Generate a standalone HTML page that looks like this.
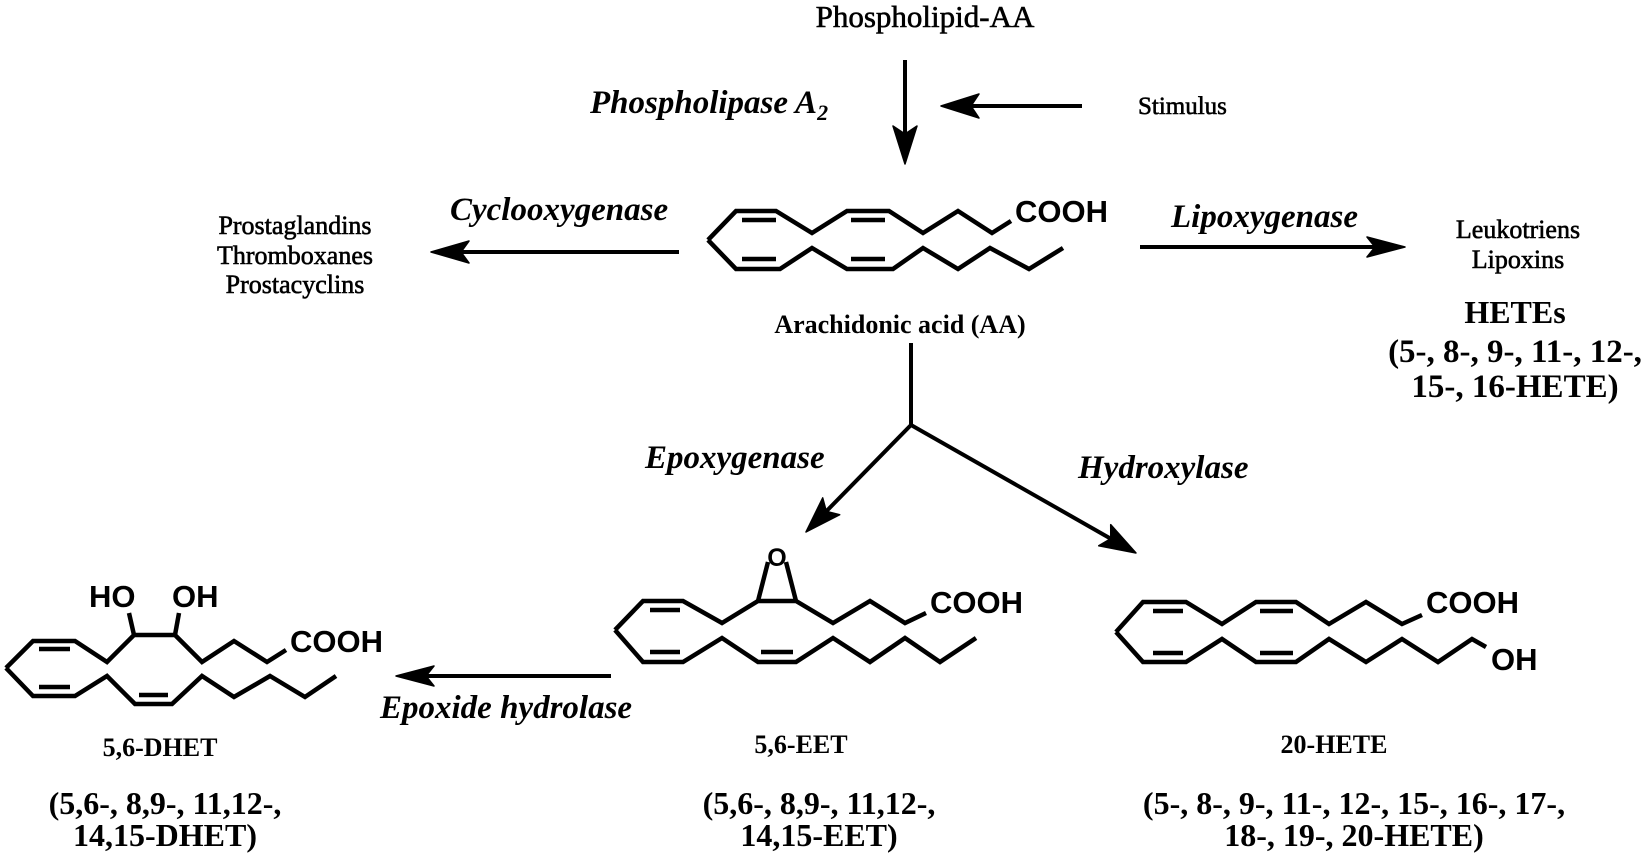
<!DOCTYPE html>
<html>
<head>
<meta charset="utf-8">
<style>
  html,body{margin:0;padding:0;background:#fff;}
  svg{display:block;}
  .serif{font-family:"Liberation Serif","Times New Roman",serif;stroke:#000;stroke-width:0.6px;}
  .sans{font-family:"Liberation Sans",Arial,sans-serif;font-weight:bold;}
  .bi{font-family:"Liberation Serif","Times New Roman",serif;font-weight:bold;font-style:italic;}
  .b{font-family:"Liberation Serif","Times New Roman",serif;font-weight:bold;}
</style>
</head>
<body>
<svg width="1644" height="858" viewBox="0 0 1644 858" xmlns="http://www.w3.org/2000/svg">
  <rect width="1644" height="858" fill="#fff"/>

  <!-- ===== Top ===== -->
  <text class="serif" x="925" y="27" font-size="31" text-anchor="middle">Phospholipid-AA</text>
  <text class="bi" x="590" y="113" font-size="33">Phospholipase A<tspan font-size="22" dy="7">2</tspan></text>
  <text class="serif" x="1138" y="114" font-size="25">Stimulus</text>

  <g stroke="#000" stroke-width="4" fill="none" stroke-linecap="butt">
    <line x1="905" y1="60" x2="905" y2="134"/>
    <line x1="1082" y1="106" x2="971" y2="106"/>
    <line x1="679" y1="252" x2="461" y2="252"/>
    <line x1="1140" y1="247" x2="1375" y2="247"/>
    <line x1="611" y1="676" x2="426" y2="676"/>
    <line x1="911" y1="343" x2="911" y2="425"/>
    <line x1="911" y1="425" x2="826.3" y2="511.3"/>
    <line x1="911" y1="425" x2="1110.8" y2="538.7"/>
  </g>
  <g fill="#000" stroke="#000" stroke-width="1.5" stroke-linejoin="round">
    <polygon points="905,164 893,126 905,134 917,126"/>
    <polygon points="941,106 979,94 971,106 979,118"/>
    <polygon points="431,252 469,241 461,252 469,263"/>
    <polygon points="1405,247 1367,237 1375,247 1367,257"/>
    <polygon points="396,676 434,666 426,676 434,686"/>
    <polygon points="806,532 839.7,514.7 826.3,511.3 822.7,497.9"/>
    <polygon points="1136,553 1098.7,545.8 1110.8,538.7 1110.7,524.6"/>
  </g>

  <!-- ===== Middle row ===== -->
  <text class="bi" x="450" y="220" font-size="33">Cyclooxygenase</text>
  <g class="serif" font-size="26" text-anchor="middle">
    <text x="295" y="234">Prostaglandins</text>
    <text x="295" y="264">Thromboxanes</text>
    <text x="295" y="293">Prostacyclins</text>
  </g>

  <text class="bi" x="1171" y="227" font-size="33">Lipoxygenase</text>
  <g class="serif" font-size="26" text-anchor="middle">
    <text x="1518" y="238">Leukotriens</text>
    <text x="1518" y="268">Lipoxins</text>
  </g>
  <text class="b" x="1515" y="323" font-size="32" text-anchor="middle">HETEs</text>
  <g class="b" font-size="33" text-anchor="middle">
    <text x="1515" y="362">(5-, 8-, 9-, 11-, 12-,</text>
    <text x="1515" y="397">15-, 16-HETE)</text>
  </g>

  <!-- Arachidonic acid -->
  <g stroke="#000" stroke-width="4.5" fill="none" stroke-linejoin="miter" stroke-linecap="butt">
    <polyline points="708,240 736,211 776,211 812,233 847,211 889,211 923,233 958,211 992,233 1011,221"/>
    <polyline points="708,240 736,269 780,269 812,248 847,269 893,269 923,248 958,269 990,248 1029,269 1063,248"/>
    <line x1="742" y1="220" x2="776" y2="220"/>
    <line x1="851" y1="220" x2="885" y2="220"/>
    <line x1="742" y1="259" x2="776" y2="259"/>
    <line x1="851" y1="259" x2="885" y2="259"/>
  </g>
  <text class="sans" x="1015" y="222" font-size="31">COOH</text>
  <text class="b" x="900" y="333" font-size="26" text-anchor="middle">Arachidonic acid (AA)</text>

  <!-- Branch labels -->
  <text class="bi" x="645" y="468" font-size="33">Epoxygenase</text>
  <text class="bi" x="1078" y="478" font-size="33">Hydroxylase</text>

  <!-- ===== DHET ===== -->
  <g stroke="#000" stroke-width="4.5" fill="none" stroke-linejoin="miter">
    <polyline points="6,668 33,641 75,641 107,662 134,635 175,635 202,662 234,641 267,662 286,650"/>
    <polyline points="6,668 33,696 75,696 107,676 135,704 172,704 202,676 234,697 270,676 305,697 336,676"/>
    <line x1="134" y1="635" x2="129" y2="613"/>
    <line x1="175" y1="635" x2="179" y2="613"/>
    <line x1="39" y1="649" x2="70" y2="649"/>
    <line x1="39" y1="687" x2="70" y2="687"/>
    <line x1="139" y1="695" x2="168" y2="695"/>
  </g>
  <text class="sans" x="89" y="607" font-size="31">HO</text>
  <text class="sans" x="172" y="607" font-size="31">OH</text>
  <text class="sans" x="290" y="652" font-size="31">COOH</text>
  <text class="bi" x="380" y="718" font-size="33">Epoxide hydrolase</text>
  <text class="b" x="160" y="756" font-size="26" text-anchor="middle">5,6-DHET</text>
  <g class="b" font-size="32" text-anchor="middle">
    <text x="165" y="814">(5,6-, 8,9-, 11,12-,</text>
    <text x="165" y="846">14,15-DHET)</text>
  </g>

  <!-- ===== EET ===== -->
  <g stroke="#000" stroke-width="4.5" fill="none" stroke-linejoin="miter">
    <polyline points="615,630 643,601 683,601 722,623 758,601 796,601 833,623 870,601 905,623 926,613"/>
    <polyline points="615,630 643,662 683,662 722,638 758,662 796,662 833,638 870,662 905,638 940,662 976,638"/>
    <line x1="758" y1="601" x2="768" y2="562"/>
    <line x1="796" y1="601" x2="786" y2="562"/>
    <line x1="650" y1="610" x2="680" y2="610"/>
    <line x1="650" y1="652" x2="680" y2="652"/>
    <line x1="761" y1="652" x2="793" y2="652"/>
  </g>
  <text class="sans" x="777" y="566" font-size="25" text-anchor="middle">O</text>
  <text class="sans" x="930" y="613" font-size="31">COOH</text>
  <text class="b" x="801" y="753" font-size="26" text-anchor="middle">5,6-EET</text>
  <g class="b" font-size="32" text-anchor="middle">
    <text x="819" y="814">(5,6-, 8,9-, 11,12-,</text>
    <text x="819" y="846">14,15-EET)</text>
  </g>

  <!-- ===== 20-HETE ===== -->
  <g stroke="#000" stroke-width="4.5" fill="none" stroke-linejoin="miter">
    <polyline points="1116,632 1143,602 1186,602 1222,624 1256,602 1296,602 1329,624 1366,602 1402,624 1422,615"/>
    <polyline points="1116,632 1143,662 1186,662 1222,639 1256,662 1296,662 1329,639 1366,662 1402,639 1438,662 1472,639 1486,647"/>
    <line x1="1153" y1="611" x2="1183" y2="611"/>
    <line x1="1260" y1="611" x2="1293" y2="611"/>
    <line x1="1153" y1="653" x2="1183" y2="653"/>
    <line x1="1260" y1="653" x2="1293" y2="653"/>
  </g>
  <text class="sans" x="1426" y="613" font-size="31">COOH</text>
  <text class="sans" x="1491" y="670" font-size="31">OH</text>
  <text class="b" x="1334" y="753" font-size="26" text-anchor="middle">20-HETE</text>
  <g class="b" font-size="32" text-anchor="middle">
    <text x="1354" y="814">(5-, 8-, 9-, 11-, 12-, 15-, 16-, 17-,</text>
    <text x="1354" y="846">18-, 19-, 20-HETE)</text>
  </g>
</svg>
</body>
</html>
